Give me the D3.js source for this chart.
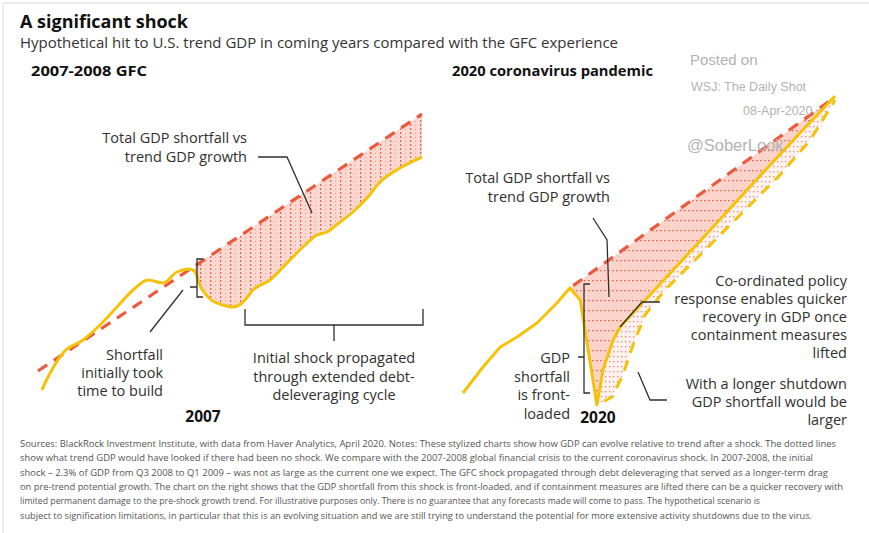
<!DOCTYPE html>
<html>
<head>
<meta charset="utf-8">
<script src="https://cdn.jsdelivr.net/npm/d3@7"></script>
<style>
  body { margin: 0; background: #fff; }
  svg { display: block; font-family: "Open Sans", "Noto Sans", sans-serif; }
</style>
</head>
<body>
<svg id="chart" width="869" height="533"></svg>
<script>
// ---- 2007-2008 GFC panel: stylized GDP index by year ----
const gfcYears  = [2002.12, 2002.38, 2002.78, 2003.41, 2003.84, 2004.47, 2004.97, 2005.44, 2005.91, 2006.34,
                   2006.75, 2006.91, 2007.03, 2007.38, 2007.78, 2008.09, 2008.41, 2008.72, 2009.25, 2009.78,
                   2010.28, 2010.72, 2011.03, 2011.44, 2011.84, 2012.28, 2012.69, 2013.31, 2014.0];
const gfcActual = [101.0, 104.4, 108.4, 111.0, 113.4, 117.6, 121.0, 123.0, 122.4, 124.6,
                   125.2, 124.6, 122.4, 119.2, 118.0, 117.6, 118.6, 121.0, 123.0, 126.4,
                   129.6, 132.0, 132.6, 134.6, 136.6, 139.4, 142.6, 145.4, 147.6];
const gfcTrendYears = [2002.0, 2014.0];
const gfcTrend      = [104.8, 156.2];
const gfcShockStart = 2006.9;

// ---- 2020 coronavirus panel ----
const covidYears  = [2018.0, 2018.37, 2018.69, 2019.0, 2019.37, 2019.74, 2019.98, 2020.17, 2020.48,
                     2020.59, 2020.78, 2020.91, 2021.46, 2022.39, 2023.31, 2024.24, 2024.89];
const covidActual = [100.4, 105.6, 109.6, 111.6, 114.4, 118.4, 121.4, 119.0, 98.0,
                     105.0, 111.0, 113.6, 120.0, 130.8, 141.6, 152.4, 159.8];
const covidTrendYears = [2019.98, 2024.89];
const covidTrend      = [121.4, 159.6];
// longer shutdown scenario
const covidLongYears = [2020.48, 2020.76, 2020.96, 2021.15, 2021.37, 2021.74, 2022.39, 2023.13, 2023.87, 2024.43, 2024.89];
const covidLong      = [98.0, 99.6, 104.0, 110.0, 116.0, 121.0, 128.0, 136.0, 144.0, 151.0, 159.0];
const covidPeak   = 2019.98;
const covidTrough = 2020.48;

const footnoteLines = [
  "Sources: BlackRock Investment Institute, with data from Haver Analytics, April 2020. Notes: These stylized charts show how GDP can evolve relative to trend after a shock. The dotted lines",
  "show what trend GDP would have looked if there had been no shock. We compare with the 2007-2008 global financial crisis to the current coronavirus shock. In 2007-2008, the initial",
  "shock \u2013 2.3% of GDP from Q3 2008 to Q1 2009 \u2013 was not as large as the current one we expect. The  GFC shock propagated through debt deleveraging that served as a longer-term drag",
  "on pre-trend potential growth. The chart on the right shows that the GDP shortfall from this shock is front-loaded, and if containment measures are lifted there can be a quicker recovery with",
  "limited permanent damage to the pre-shock growth trend.  For illustrative purposes only. There is no guarantee that any forecasts made will come to pass. The hypothetical scenario is",
  "subject to signification limitations, in particular that this is an evolving situation and we are still trying to understand the  potential for more extensive activity shutdowns due to the virus."
];
const footnoteWidths = [816, 793, 808, 823, 740, 792];

const YELLOW = "#f5c20a", RED = "#ea5a3e", INK = "#2f2f2f";
const FS = 14.5;

const svg = d3.select("#chart");

// frame
svg.append("line").attr("x1", 3).attr("y1", 3).attr("x2", 869).attr("y2", 3).attr("stroke", "#dadada");
svg.append("line").attr("x1", 3).attr("y1", 3).attr("x2", 3).attr("y2", 533).attr("stroke", "#dadada");

// ---- patterns ----
const defs = svg.append("defs");
const pV = defs.append("pattern").attr("id", "hatchV").attr("patternUnits", "userSpaceOnUse")
  .attr("width", 10).attr("height", 4);
pV.append("rect").attr("width", 10).attr("height", 4).attr("fill", "#fcd8d0");
pV.append("rect").attr("x", 0).attr("y", 0).attr("width", 1.2).attr("height", 2).attr("fill", "#e7624d");
pV.append("rect").attr("x", 5).attr("y", 1).attr("width", 1).attr("height", 1).attr("fill", "#f09a8a");

const pH = defs.append("pattern").attr("id", "hatchH").attr("patternUnits", "userSpaceOnUse")
  .attr("width", 4).attr("height", 10);
pH.append("rect").attr("width", 4).attr("height", 10).attr("fill", "#fcd4cb");
pH.append("rect").attr("x", 0).attr("y", 0).attr("width", 1.6).attr("height", 1.2).attr("fill", "#e7624d");

const pD = defs.append("pattern").attr("id", "dots").attr("patternUnits", "userSpaceOnUse")
  .attr("width", 4).attr("height", 5);
pD.append("rect").attr("width", 4).attr("height", 5).attr("fill", "#fff2ee");
pD.append("rect").attr("x", 1).attr("y", 1).attr("width", 1.3).attr("height", 1.3).attr("fill", "#ee8a78");

// ---- scales ----
const xL = d3.scaleLinear().domain([2002, 2014]).range([38, 422]);
const xR = d3.scaleLinear().domain([2018, 2025]).range([463, 841]);
const y  = d3.scaleLinear().domain([100, 160]).range([395, 95]);
const trendL = d3.scaleLinear().domain(gfcTrendYears).range(gfcTrend);
const trendR = d3.scaleLinear().domain(covidTrendYears).range(covidTrend);

const gfc   = gfcYears.map((t, i) => [t, gfcActual[i]]);
const covid = covidYears.map((t, i) => [t, covidActual[i]]);
const cLong = covidLongYears.map((t, i) => [t, covidLong[i]]);

// ---- GFC panel ----
const gL = svg.append("g");
const gfcShock = [[gfcShockStart, trendL(gfcShockStart)]].concat(gfc.filter(d => d[0] > gfcShockStart));
gL.append("path")
  .attr("d", d3.area().curve(d3.curveMonotoneX)
    .x(d => xL(d[0])).y0(d => y(trendL(d[0]))).y1(d => y(d[1]))(gfcShock))
  .attr("fill", "url(#hatchV)");
gL.append("path")
  .attr("d", d3.line().x(d => xL(d)).y((d, i) => y(gfcTrend[i]))(gfcTrendYears))
  .attr("fill", "none").attr("stroke", RED).attr("stroke-width", 3.2).attr("stroke-dasharray", "11 8");
gL.append("path")
  .attr("d", d3.line().curve(d3.curveMonotoneX).x(d => xL(d[0])).y(d => y(d[1]))(gfc))
  .attr("fill", "none").attr("stroke", YELLOW).attr("stroke-width", 3).attr("stroke-linejoin", "round");

// ---- COVID panel ----
const gR = svg.append("g");
const afterPeak = covid.filter(d => d[0] >= covidPeak);
gR.append("path")
  .attr("d", d3.area().x(d => xR(d[0])).y0(d => y(trendR(d[0]))).y1(d => y(d[1]))(afterPeak))
  .attr("fill", "url(#hatchH)");
const recovery = covid.filter(d => d[0] >= covidTrough);
gR.append("path")
  .attr("d", d3.line().x(d => xR(d[0])).y(d => y(d[1]))(recovery.concat(cLong.slice().reverse())) + "Z")
  .attr("fill", "url(#dots)");
gR.append("path")
  .attr("d", d3.line().x(d => xR(d)).y((d, i) => y(covidTrend[i]))(covidTrendYears))
  .attr("fill", "none").attr("stroke", RED).attr("stroke-width", 3.2).attr("stroke-dasharray", "11 8")
  .attr("stroke-dashoffset", -4);
gR.append("path")
  .attr("d", d3.line().x(d => xR(d[0])).y(d => y(d[1]))(cLong))
  .attr("fill", "none").attr("stroke", YELLOW).attr("stroke-width", 3).attr("stroke-dasharray", "11 8")
  .attr("stroke-dashoffset", -8);
gR.append("path")
  .attr("d", d3.line().x(d => xR(d[0])).y(d => y(d[1]))(covid))
  .attr("fill", "none").attr("stroke", YELLOW).attr("stroke-width", 3).attr("stroke-linejoin", "round");

// ---- headings ----
svg.append("text").attr("x", 20).attr("y", 28).text("A significant shock")
  .attr("font-size", 17.5).attr("font-weight", 700).attr("fill", "#111")
  .attr("textLength", 168).attr("lengthAdjust", "spacingAndGlyphs");
svg.append("text").attr("x", 20).attr("y", 48)
  .text("Hypothetical hit to U.S. trend GDP in coming years compared with the GFC experience")
  .attr("font-size", 14.3).attr("fill", "#333")
  .attr("textLength", 598).attr("lengthAdjust", "spacingAndGlyphs");
svg.append("text").attr("x", 31).attr("y", 76).text("2007-2008 GFC")
  .attr("font-size", 14.5).attr("font-weight", 700).attr("fill", "#111")
  .attr("textLength", 116).attr("lengthAdjust", "spacingAndGlyphs");
svg.append("text").attr("x", 452).attr("y", 76).text("2020 coronavirus pandemic")
  .attr("font-size", 14.5).attr("font-weight", 700).attr("fill", "#111")
  .attr("textLength", 201).attr("lengthAdjust", "spacingAndGlyphs");

// ---- annotations ----
function label(lines, x, y0, step, anchor, opts = {}) {
  const t = svg.append("text").attr("x", x).attr("y", y0).attr("text-anchor", anchor)
    .attr("font-size", opts.size || FS).attr("fill", opts.color || INK)
    .attr("font-weight", opts.weight || 400);
  lines.forEach((s, i) => t.append("tspan").attr("x", x).attr("y", y0 + i * step).text(s));
  return t;
}
function leader(d) {
  svg.append("path").attr("d", d).attr("fill", "none").attr("stroke", INK).attr("stroke-width", 1.3);
}

label(["Total GDP shortfall vs", "trend GDP growth"], 247, 143, 19, "end");
leader("M258,157 H287 L312,213");
label(["Shortfall", "initially took", "time to build"], 163, 360, 18, "end");
leader("M183,290 L150,332");
leader("M203,259 H197 V297 H203 M190,287 H197");
leader("M245,309 V325 H423 V309 M334,325 V341");
label(["Initial shock propagated", "through extended debt-", "deleveraging cycle"], 334, 363, 18.5, "middle");
label(["2007"], xL(2007) + 5, 422, 0, "middle", { weight: 700, color: "#111", size: 15.5 });

label(["Total GDP shortfall vs", "trend GDP growth"], 610, 183, 19, "end");
leader("M593,218 L607,240 L609,297");
label(["GDP", "shortfall", "is front-", "loaded"], 570, 363, 18.5, "end");
leader("M590,284 H584 V393 H590 M578,357 H584");
label(["2020"], xR(covidTrough) + 1, 423, 0, "middle", { weight: 700, color: "#111", size: 15.5 });
label(["Co-ordinated policy", "response enables quicker", "recovery in GDP once",
       "containment measures", "lifted"], 847, 286, 18, "end");
leader("M660,302 H642 L620,327");
label(["With a longer shutdown", "GDP shortfall would be", "larger"], 847, 389, 18, "end");
leader("M667,400 H650 L638,372");

// ---- watermark ----
const wm = svg.append("g").attr("font-family", "'Liberation Sans', Arial, sans-serif").attr("fill", "#b3b3b3");
wm.append("text").attr("x", 690).attr("y", 65).attr("font-size", 15).text("Posted on");
wm.append("text").attr("x", 691).attr("y", 91).attr("font-size", 12.5).text("WSJ: The Daily Shot");
wm.append("text").attr("x", 743).attr("y", 115).attr("font-size", 12.5).text("08-Apr-2020");
wm.append("text").attr("x", 687).attr("y", 151).attr("font-size", 16.5).text("@SoberLook");

// ---- footnote ----
const fn = svg.append("g").attr("fill", "#555").attr("font-size", 9.6);
footnoteLines.forEach((s, i) => {
  fn.append("text").attr("x", 20).attr("y", 447 + i * 14.3)
    .attr("textLength", footnoteWidths[i]).attr("lengthAdjust", "spacingAndGlyphs").text(s);
});
</script>
</body>
</html>
